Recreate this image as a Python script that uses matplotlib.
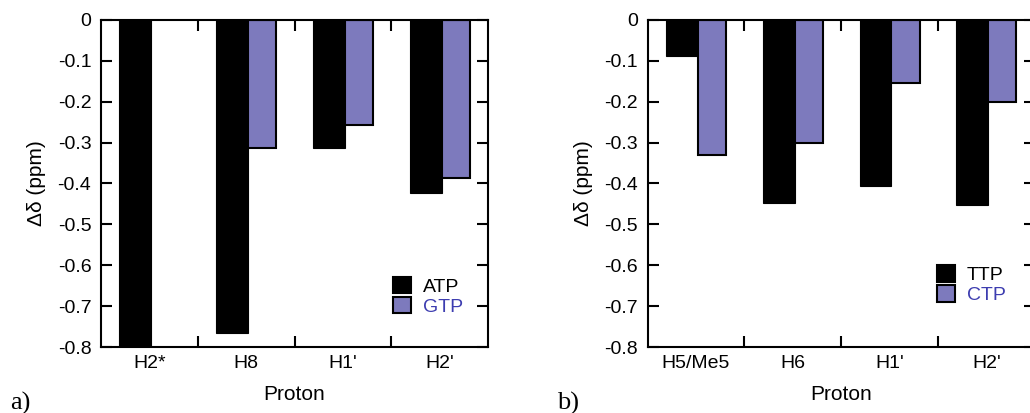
import matplotlib
matplotlib.use('Agg')
import matplotlib.pyplot as plt
from matplotlib.patches import Patch
import numpy as np

plt.rcParams['font.family'] = ['Liberation Sans', 'DejaVu Sans']
plt.rcParams['axes.unicode_minus'] = False

# --------------------------------------------------------------
# data (chemical shift change, ppm)
protons_a = ["H2*", "H8", "H1'", "H2'"]
atp = [-0.80, -0.765, -0.314, -0.423]
gtp = [None, -0.313, -0.256, -0.386]

protons_b = ["H5/Me5", "H6", "H1'", "H2'"]
ttp = [-0.087, -0.447, -0.406, -0.453]
ctp = [-0.331, -0.302, -0.153, -0.200]

y_ticks = [0, -0.1, -0.2, -0.3, -0.4, -0.5, -0.6, -0.7, -0.8]
y_tick_labels = ["0", "-0.1", "-0.2", "-0.3", "-0.4", "-0.5", "-0.6", "-0.7", "-0.8"]

blue_fill = '#7d7abd'
blue_text = '#3d3db0'


# --------------------------------------------------------------
# one panel: black bar left of the category centre, blue bar right
def draw_panel(ax, protons, dark, light, names, tag, leg_pos):
    x = np.arange(len(protons))
    ax.bar(x - 0.31, dark, width=0.33, align='edge', color='black', edgecolor='black', linewidth=0.8)
    light_x = [xi for xi, v in zip(x, light) if v is not None]
    light_v = [v for v in light if v is not None]
    ax.bar(np.array(light_x) + 0.02, light_v, width=0.29, align='edge', color=blue_fill, edgecolor='black', linewidth=1.5)

    ax.set_xlim(-0.5, len(protons) - 0.5)
    ax.set_ylim(-0.8, 0)

    # boundary ticks (major, no label) and centred labels (minor, no tick)
    ax.set_xticks(x[:-1] + 0.5)
    ax.set_xticklabels([])
    ax.set_xticks(x, minor=True)
    ax.set_xticklabels(protons, minor=True)
    ax.tick_params(axis='x', which='major', direction='in', top=True, bottom=True, length=8, width=1.5)
    ax.tick_params(axis='x', which='minor', length=0, pad=6, labelsize=14)

    ax.set_yticks(y_ticks)
    ax.set_yticklabels(y_tick_labels)
    ax.tick_params(axis='y', direction='in', left=True, right=True, length=8, width=1.5, pad=7, labelsize=14)

    for sp in ax.spines.values():
        sp.set_linewidth(1.5)

    ax.set_xlabel("Proton", fontsize=15, labelpad=9)
    ax.set_ylabel("\u0394\u03b4 (ppm)", fontsize=15, labelpad=8)

    handles = [Patch(facecolor='black', edgecolor='black', linewidth=1.5),
               Patch(facecolor=blue_fill, edgecolor='black', linewidth=1.5)]
    leg = ax.legend(handles, names, loc='upper left', bbox_to_anchor=leg_pos, frameon=False,
                    fontsize=14, handlelength=0.93, handleheight=0.93, handletextpad=0.6,
                    labelspacing=0.05, borderpad=0, borderaxespad=0)
    leg.get_texts()[1].set_color(blue_text)

    ax.text(-0.235, -0.19, tag, transform=ax.transAxes, fontsize=19, family='Liberation Serif')


fig = plt.figure(figsize=(10.3, 4.13), dpi=100)
ax_a = fig.add_axes([0.0981, 0.1598, 0.3757, 0.7918])
ax_b = fig.add_axes([0.6288, 0.1598, 0.3757, 0.7918])

draw_panel(ax_a, protons_a, atp, gtp, ['ATP', 'GTP'], 'a)', (0.755, 0.215))
draw_panel(ax_b, protons_b, ttp, ctp, ['TTP', 'CTP'], 'b)', (0.7475, 0.25))

fig.savefig('out.png', dpi=100)
